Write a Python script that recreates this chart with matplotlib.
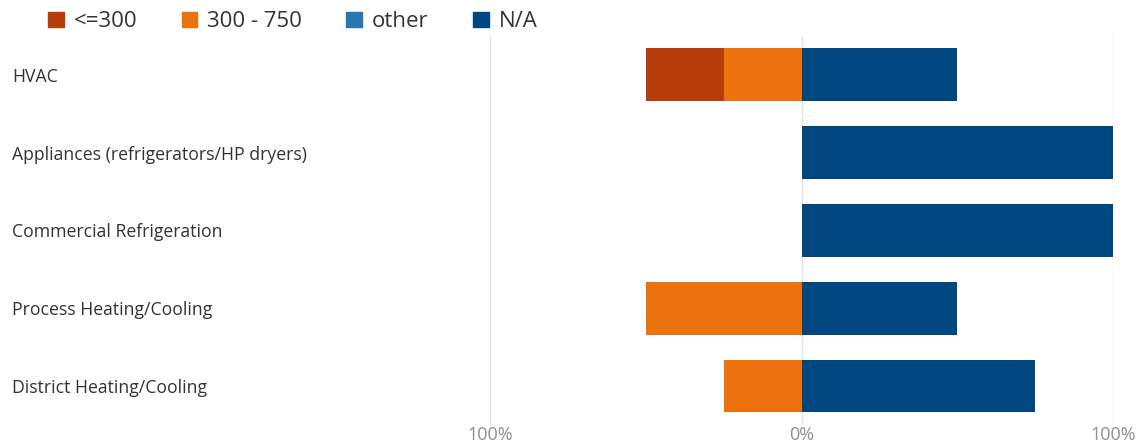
import numpy as np
import matplotlib.pyplot as plt
from matplotlib.patches import Patch

categories = ['HVAC', 'Appliances (refrigerators/HP dryers)', 'Commercial Refrigeration',
              'Process Heating/Cooling', 'District Heating/Cooling']
le300 = [25, 0, 0, 0, 0]      # percent, drawn to the left
mid = [25, 0, 0, 50, 25]      # 300 - 750, drawn to the left
other = [0, 0, 0, 0, 0]
na = [50, 100, 100, 50, 75]   # drawn to the right

series_names = ['<=300', '300 - 750', 'other', 'N/A']
colors = ['#B83C0A', '#EC720D', '#2878B0', '#01477F']

plt.rcParams['font.family'] = ['Open Sans', 'DejaVu Sans']

fig = plt.figure(figsize=(11.41, 4.44), dpi=100)
ax = fig.add_axes([0.4295, 0.043, 0.546, 0.876])

y = np.arange(len(categories))
le300 = np.array(le300)
mid = np.array(mid)
other = np.array(other)
na = np.array(na)

ax.barh(y, -mid, height=0.68, color=colors[1])
ax.barh(y, -le300, left=-mid, height=0.68, color=colors[0])
ax.barh(y, other, height=0.68, color=colors[2])
ax.barh(y, na, left=other, height=0.68, color=colors[3])

ax.set_xlim(-100, 100)
ax.set_ylim(len(categories) - 0.5, -0.5)
for gx in [-100, 0, 100]:
    ax.axvline(gx, color='#e3e3e3', lw=1, zorder=0)

ax.set_xticks([-100, 0, 100])
ax.set_xticklabels(['100%', '0%', '100%'])
ax.tick_params(axis='x', length=0, labelsize=13, labelcolor='#8f8f8f', pad=1)

ax.set_yticks(y)
ax.set_yticklabels(categories)
ax.tick_params(axis='y', length=0, labelsize=12.7, labelcolor='#333333', pad=344)
for lab in ax.get_yticklabels():
    lab.set_ha('left')
    lab.set_va('center_baseline')

for s in ax.spines.values():
    s.set_visible(False)

handles = [Patch(color=c) for c in colors]
fig.legend(handles, series_names, loc='upper left', bbox_to_anchor=(0.0245, 1.02),
           ncol=4, frameon=False, fontsize=16, handlelength=0.7, handleheight=0.7,
           handletextpad=0.45, columnspacing=2.0, labelcolor='#333333')

fig.savefig('out.png', dpi=100)
